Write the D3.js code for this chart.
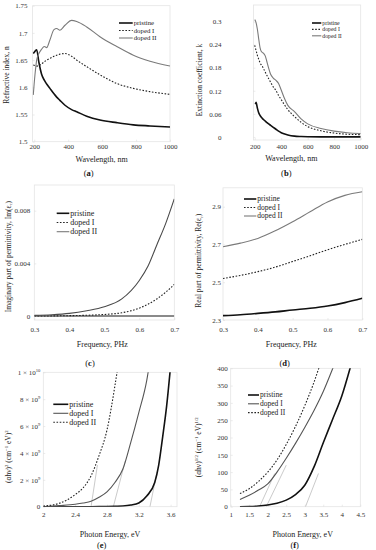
<!DOCTYPE html>
<html><head><meta charset="utf-8">
<script src="https://cdn.jsdelivr.net/npm/d3@7"></script>
<style>
body{margin:0;background:#fff}
svg{display:block}
text{font-family:"Liberation Serif","Times New Roman",serif}
</style>
</head><body>
<svg id="c" width="376" height="550"></svg>
<script>
const seriesNames = ["pristine", "doped I", "doped II"];

// (a) refractive index
const wavelengthA = [194,204,214,227,243,259,273,292,316,332,351,381,420,450,509,587,686,784,882,1000];
const nPristine = [1.662,1.666,1.669,1.646,1.624,1.613,1.606,1.598,1.588,1.582,1.576,1.567,1.559,1.555,1.547,1.540,1.535,1.531,1.529,1.527];
const nDopedI   = [1.641,1.640,1.639,1.640,1.643,1.647,1.650,1.653,1.657,1.659,1.661,1.662,1.657,1.650,1.638,1.623,1.607,1.598,1.592,1.587];
const nDopedII  = [1.586,1.623,1.650,1.662,1.670,1.675,1.673,1.687,1.706,1.708,1.705,1.714,1.723,1.721,1.711,1.693,1.675,1.659,1.648,1.639];
const nTicks = [1.5,1.55,1.6,1.65,1.7,1.75];
const wavelengthTicks = [200,400,600,800,1000];

// (b) extinction coefficient
const wavelengthB = [200,205,210,220,230,240,250,260,270,280,290,300,320,340,360,380,400,420,450,500,550,600,700,800,900,1000];
const kPristine = [null,0.085,0.090,0.075,0.063,0.056,0.051,0.047,0.044,0.041,0.038,0.035,0.030,0.025,0.020,0.015,0.011,0.008,0.005,0.002,0.001,0.0005,0.0002,0,0,0];
const kDopedI   = [0.238,0.231,0.225,0.212,0.202,0.193,0.187,0.182,0.175,0.168,0.161,0.155,0.142,0.130,0.121,0.108,0.097,0.086,0.071,0.053,0.038,0.027,0.016,0.010,0.007,0.006];
const kDopedII  = [0.305,0.302,0.297,0.280,0.255,0.232,0.222,0.219,0.216,0.210,0.198,0.185,0.163,0.153,0.147,0.139,0.122,0.104,0.082,0.066,0.047,0.034,0.022,0.015,0.011,0.009];
const kTicks = [0,0.06,0.12,0.18,0.24,0.3];

// (c) imaginary permittivity
const freqC = [0.3,0.35,0.4,0.45,0.5,0.55,0.6,0.625,0.65,0.675,0.7];
const imPristine = [0.00001,0.00001,0.00001,0.00001,0.00001,0.00001,0.00001,0.00001,0.00001,0.00001,0.00001];
const imDopedI   = [0,0.00001,0.00003,0.00006,0.00012,0.00025,0.0006,0.0009,0.0013,0.0018,0.0024];
const imDopedII  = [0.00005,0.0001,0.0002,0.0004,0.0007,0.0013,0.0027,0.0038,0.0054,0.0070,0.0089];
const imTicks = [0,0.004,0.008];
const freqTicks = [0.3,0.4,0.5,0.6,0.7];

// (d) real permittivity
const freqD = [0.3,0.35,0.4,0.45,0.5,0.55,0.6,0.65,0.7];
const rePristine = [2.323,2.328,2.335,2.343,2.353,2.362,2.374,2.392,2.415];
const reDopedI   = [2.520,2.536,2.556,2.580,2.610,2.640,2.672,2.700,2.727];
const reDopedII  = [2.688,2.707,2.732,2.772,2.820,2.873,2.925,2.960,2.979];
const reTicks = [2.3,2.5,2.7,2.9];

// (e) Tauc direct
const energyE = [2.0,2.2,2.4,2.5,2.6,2.7,2.8,2.9,3.0,3.1,3.2,3.3,3.4,3.45,3.5,3.55,3.6];
const directPristine = [0,0,0,0,0,0.005e9,0.015e9,0.03e9,0.05e9,0.12e9,0.28e9,0.8e9,1.8e9,3.1e9,5.2e9,7.5e9,10.5e9];
const directDopedI   = [0,0.08e9,0.18e9,0.27e9,0.4e9,0.7e9,1.1e9,1.8e9,2.8e9,4.8e9,7.0e9,9.4e9,13.5e9,null,null,null,null];
const directDopedII  = [0.05e9,0.25e9,0.9e9,1.4e9,2.3e9,3.8e9,5.7e9,9.0e9,13e9,null,null,null,null,null,null,null,null];
const directFits = [[2.6,0,2.68,3.1e9],[2.88,0,3.03,3.4e9],[3.34,0,3.43,2.6e9]];
const directTicks = [0,2e9,4e9,6e9,8e9,1e10];
const energyTicksE = [2,2.4,2.8,3.2,3.6];

// (f) Tauc indirect
const energyF = [1.25,1.5,1.75,2.0,2.25,2.5,2.75,3.0,3.25,3.5,3.75,4.0,4.25];
const indirectPristine = [0,0.5,2,5,10,19,35,62,115,185,252,320,410];
const indirectDopedI   = [21,33,48,66,100,140,183,229,278,333,398,465,null];
const indirectDopedII  = [38,52,73,100,135,180,232,292,360,440,null,null,null];
const indirectFits = [[1.78,0,2.19,96],[1.96,0,2.5,120],[3.02,0,3.37,96]];
const indirectTicks = [0,50,100,150,200,250,300,350,400];
const energyTicksF = [1,1.5,2,2.5,3,3.5,4,4.5];

const svg = d3.select("#c");
const defs = svg.append("defs");
const FONT = '"Liberation Serif","Times New Roman",serif';

const styleSolidBlack = {stroke:"#111", w:1.6, dash:null};
const styleDotted = {stroke:"#222", w:1.1, dash:"1.6,1.6"};
const styleGray = {stroke:"#7a7a7a", w:1.1, dash:null};
const styleDarkGray = {stroke:"#555", w:1.1, dash:null};

function fmt(d){ return String(+d.toFixed(4)); }

function panel(cfg){
  const x = d3.scaleLinear().domain(cfg.xd).range(cfg.xr);
  const y = d3.scaleLinear().domain(cfg.yd).range(cfg.yr);
  const g = svg.append("g");
  const x0 = cfg.xr[0], x1 = cfg.xr[1], yT = cfg.yr[1], yB = cfg.yr[0];
  g.append("rect").attr("x",x0).attr("y",yT).attr("width",x1-x0).attr("height",yB-yT)
    .attr("fill","none").attr("stroke","#e4e4e4").attr("stroke-width",0.8);

  const ax = d3.axisBottom(x).tickValues(cfg.xt).tickSizeInner(-2).tickSizeOuter(0)
    .tickPadding(cfg.xpad).tickFormat(cfg.xf || fmt);
  const gx = g.append("g").attr("transform",`translate(0,${yB})`).call(ax);
  const ay = d3.axisLeft(y).tickValues(cfg.yt).tickSizeInner(-2).tickSizeOuter(0)
    .tickPadding(cfg.ypad).tickFormat(cfg.yf || fmt);
  const gy = g.append("g").attr("transform",`translate(${x0},0)`).call(ay);
  [gx,gy].forEach(a=>{
    a.select(".domain").remove();
    a.attr("font-family",FONT).attr("font-size",7);
    a.selectAll(".tick line").attr("stroke","#ddd").attr("stroke-width",0.6);
    a.selectAll(".tick text").attr("fill","#333");
  });
  if (cfg.ySup) {
    gy.selectAll(".tick text").each(function(d){
      const t = d3.select(this);
      if (d === 0) return;
      const e = Math.floor(Math.log10(d)+1e-9);
      const m = Math.round(d/Math.pow(10,e));
      t.text(null);
      t.append("tspan").text(m + " \u00d7 10");
      t.append("tspan").attr("font-size",4.6).attr("dy",-3).text(e);
    });
  }

  const cid = "clip" + cfg.id;
  defs.append("clipPath").attr("id",cid).append("rect")
    .attr("x",x0).attr("y",yT).attr("width",x1-x0).attr("height",yB-yT);
  const plot = g.append("g").attr("clip-path",`url(#${cid})`);

  if (cfg.fits) {
    cfg.fits.forEach(f=>{
      plot.append("line").attr("x1",x(f[0])).attr("y1",y(f[1])).attr("x2",x(f[2])).attr("y2",y(f[3]))
        .attr("stroke","#bdbdbd").attr("stroke-width",0.8);
    });
  }
  const line = d3.line().defined(d=>d[1]!=null).x(d=>x(d[0])).y(d=>y(d[1])).curve(d3.curveMonotoneX);
  cfg.series.forEach(s=>{
    const pts = cfg.xs.map((v,i)=>[v,s.values[i]]);
    const p = plot.append("path").attr("d",line(pts)).attr("fill","none")
      .attr("stroke",s.style.stroke).attr("stroke-width",s.style.w).attr("stroke-linejoin","round");
    if (s.style.dash) p.attr("stroke-dasharray",s.style.dash);
  });

  // legend
  const L = cfg.legend;
  cfg.legendStyles.forEach((st,i)=>{
    const yy = L.y0 + i*L.dy;
    const l = g.append("line").attr("x1",L.x1).attr("x2",L.x2).attr("y1",yy).attr("y2",yy)
      .attr("stroke",st.stroke).attr("stroke-width",st.w);
    if (st.dash) l.attr("stroke-dasharray",st.dash);
    g.append("text").attr("x",L.x2+1).attr("y",yy).attr("dy","0.33em")
      .attr("font-size",L.fs).attr("fill","#222").text(seriesNames[i]);
  });

  // axis titles
  g.append("text").attr("x",cfg.xtitle[0]).attr("y",cfg.xtitle[1]).attr("dy","0.35em")
    .attr("text-anchor","middle").attr("font-size",8).attr("fill","#222").text(cfg.xtitleText);
  const yt = g.append("text").attr("transform",`translate(${cfg.ytitle[0]},${cfg.ytitle[1]}) rotate(-90)`)
    .attr("dy","0.35em").attr("text-anchor","middle").attr("font-size",7.5).attr("fill","#222");
  cfg.ytitleParts.forEach(p=>{
    const t = yt.append("tspan").text(p.t);
    if (p.sup) t.attr("font-size",4.8).attr("dy",-3);
    if (p.sub) t.attr("font-size",5).attr("dy",1.5);
    if (p.back) t.attr("dy",p.back);
  });
  // panel label
  const pl = g.append("text").attr("x",cfg.plabel[0]).attr("y",cfg.plabel[1]).attr("dy","0.35em")
    .attr("text-anchor","middle").attr("font-size",8.5).attr("fill","#111");
  pl.append("tspan").text("(");
  pl.append("tspan").attr("font-weight","bold").text(cfg.letter);
  pl.append("tspan").text(")");
}

const legA = [styleSolidBlack, styleDotted, styleGray];
const legE = [styleSolidBlack, styleDarkGray, styleDotted];

panel({id:"a", xd:[190,1000], xr:[32.6,170], yd:[1.5,1.75], yr:[141.7,5.7],
  xt:wavelengthTicks, yt:nTicks, xpad:2.5, ypad:5,
  xs:wavelengthA,
  series:[{values:nPristine,style:styleSolidBlack},{values:nDopedI,style:styleDotted},{values:nDopedII,style:styleGray}],
  legend:{x1:119,x2:132.7,y0:23,dy:7.5,fs:6.8}, legendStyles:legA,
  xtitle:[101.7,159.3], xtitleText:"Wavelength, nm",
  ytitle:[6.7,75], ytitleParts:[{t:"Refractive index, n"}],
  plabel:[88.7,173], letter:"a"});

panel({id:"b", xd:[190,1000], xr:[253.4,360.7], yd:[-0.008,0.343], yr:[140,5],
  xt:wavelengthTicks, yt:kTicks, xpad:4, ypad:32,
  xs:wavelengthB,
  series:[{values:kPristine,style:styleSolidBlack},{values:kDopedI,style:styleDotted},{values:kDopedII,style:styleGray}],
  legend:{x1:312,x2:321.3,y0:23,dy:6.4,fs:5.8}, legendStyles:legA,
  xtitle:[291.3,158.3], xtitleText:"Wavelength, nm",
  ytitle:[199.7,80], ytitleParts:[{t:"Extinction coefficient, k"}],
  plabel:[286.3,173], letter:"b"});

panel({id:"c", xd:[0.3,0.7], xr:[34.3,174.3], yd:[-0.0003,0.00995], yr:[320,185],
  xt:freqTicks, yt:imTicks, xpad:7, ypad:4,
  xs:freqC,
  series:[{values:imPristine,style:{stroke:"#8a8a8a",w:2,dash:null}},{values:imDopedI,style:styleDotted},{values:imDopedII,style:{stroke:"#4a4a4a",w:1.1,dash:null}}],
  legend:{x1:56.7,x2:69.3,y0:213.3,dy:9.2,fs:8}, legendStyles:legA,
  xtitle:[102.3,344], xtitleText:"Frequency, PHz",
  ytitle:[8.3,256.7], ytitleParts:[{t:"Imaginary part of permittivity, Im(\u03b5"},{t:"r",sub:true},{t:")",back:-1.5}],
  plabel:[90,363], letter:"c"});

panel({id:"d", xd:[0.3,0.7], xr:[223,362.3], yd:[2.3,3.0], yr:[320,187.8],
  xt:freqTicks, yt:reTicks, xpad:7, ypad:2,
  xs:freqD,
  series:[{values:rePristine,style:styleSolidBlack},{values:reDopedI,style:styleDotted},{values:reDopedII,style:styleGray}],
  legend:{x1:244,x2:256.3,y0:199,dy:8.5,fs:7.5}, legendStyles:legA,
  xtitle:[291.3,344], xtitleText:"Frequency, PHz",
  ytitle:[198.7,260.7], ytitleParts:[{t:"Real part of permittivity, Re(\u03b5"},{t:"r",sub:true},{t:")",back:-1.5}],
  plabel:[284.7,363], letter:"d"});

panel({id:"e", xd:[2,3.68], xr:[43.3,177], yd:[0,1e10], yr:[506.7,372.3],
  xt:energyTicksE, yt:directTicks, xpad:5, ypad:3, ySup:true,
  xs:energyE, fits:directFits,
  series:[{values:directPristine,style:styleSolidBlack},{values:directDopedI,style:styleDarkGray},{values:directDopedII,style:styleDotted}],
  legend:{x1:53.3,x2:68.3,y0:404.3,dy:9,fs:8}, legendStyles:legE,
  xtitle:[110,534.5], xtitleText:"Photon Energy, eV",
  ytitle:[8.3,456.7], ytitleParts:[{t:"(\u03b1h\u03bd)"},{t:"2",sup:true},{t:" (cm",back:3},{t:"\u22121",sup:true},{t:" eV)",back:3},{t:"2",sup:true}],
  plabel:[101.7,545], letter:"e"});

panel({id:"f", xd:[1,4.5], xr:[230.7,360.3], yd:[0,400], yr:[506.7,368.3],
  xt:energyTicksF, yt:indirectTicks, xpad:5, ypad:3,
  xs:energyF, fits:indirectFits,
  series:[{values:indirectPristine,style:styleSolidBlack},{values:indirectDopedI,style:styleDarkGray},{values:indirectDopedII,style:styleDotted}],
  legend:{x1:248,x2:259,y0:395,dy:8.8,fs:7.5}, legendStyles:legE,
  xtitle:[302.7,534.5], xtitleText:"Photon Energy, eV",
  ytitle:[198,447.3], ytitleParts:[{t:"(\u03b1h\u03bd)"},{t:"1/2",sup:true},{t:" (cm",back:3},{t:"\u22121",sup:true},{t:" eV)",back:3},{t:"1/2",sup:true}],
  plabel:[294.7,545], letter:"f"});
</script>
</body></html>
